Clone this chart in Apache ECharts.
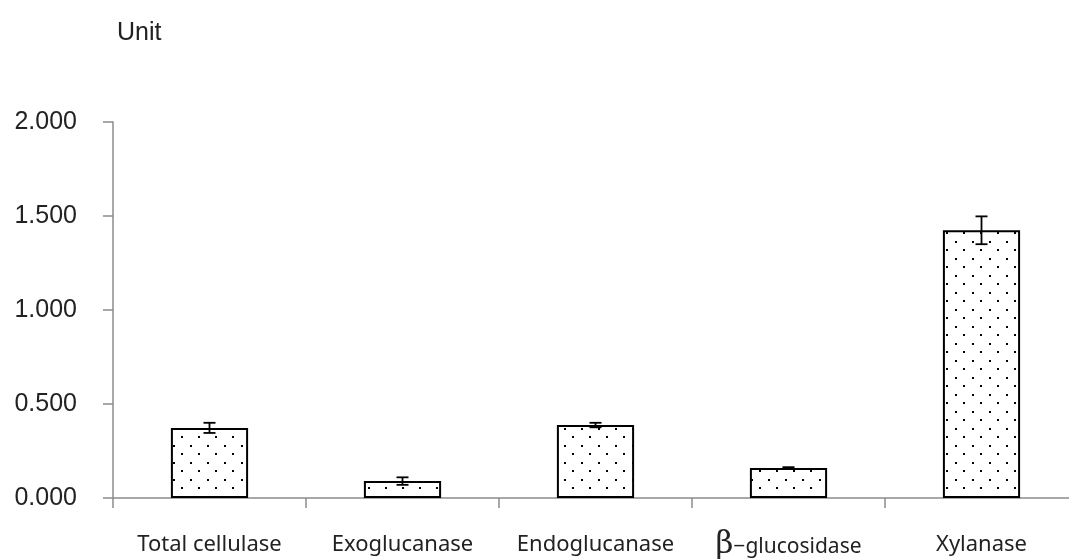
<!DOCTYPE html>
<html>
<head>
<meta charset="utf-8">
<script src="https://cdn.jsdelivr.net/npm/echarts@6/dist/echarts.min.js"></script>
<style>
  html, body { margin: 0; padding: 0; background: #fff; }
  #chart { width: 1069px; height: 559px; }
</style>
</head>
<body>
<div id="chart"></div>
<script>
// Enzyme activities with standard deviations
const categories = ['Total cellulase', 'Exoglucanase', 'Endoglucanase', 'β-glucosidase', 'Xylanase'];
const activity = [0.373, 0.090, 0.388, 0.160, 1.424];
const deviation = [0.027, 0.020, 0.012, 0.004, 0.074];
const yTicks = [0, 0.5, 1.0, 1.5, 2.0];

// Dotted fill used for the bars
function dotPattern() {
  const c = document.createElement('canvas');
  c.width = 17; c.height = 17;
  const ctx = c.getContext('2d');
  ctx.fillStyle = '#ffffff';
  ctx.fillRect(0, 0, 17, 17);
  ctx.fillStyle = '#000000';
  ctx.fillRect(3, 3, 2, 2);
  ctx.fillRect(11, 11, 2, 2);
  return c;
}

const chart = echarts.init(document.getElementById('chart'), null, { renderer: 'canvas' });

const axisGray = '#8c8c8c';

chart.setOption({
  animation: false,
  backgroundColor: '#ffffff',
  title: {
    text: 'Unit',
    left: 112,
    top: 16,
    textStyle: { fontFamily: 'Liberation Sans', fontSize: 25, fontWeight: 'normal', color: '#222' }
  },
  grid: { left: 113, right: -9, top: 122, bottom: 61, containLabel: false, outerBoundsMode: 'none' },
  xAxis: {
    type: 'category',
    data: categories,
    axisLine: { show: true, lineStyle: { color: axisGray, width: 1.5 } },
    axisTick: { show: true, interval: 0, alignWithLabel: false, length: 10, lineStyle: { color: axisGray, width: 1.5 } },
    axisLabel: {
      interval: 0,
      margin: 34,
      fontFamily: 'Noto Sans',
      fontSize: 22,
      color: '#222',
      formatter: function (v) {
        if (v.charAt(0) === 'β') return '{beta|β}{rest|−' + v.slice(2) + '}';
        return '{norm|' + v + '}';
      },
      rich: {
        norm: { fontFamily: 'Noto Sans', fontSize: 22, color: '#222', lineHeight: 26, verticalAlign: 'middle' },
        beta: { fontFamily: 'DejaVu Serif', fontSize: 31, color: '#222', lineHeight: 26, verticalAlign: 'middle' },
        rest: { fontFamily: 'Noto Sans', fontSize: 21, color: '#222', lineHeight: 26, verticalAlign: 'middle', padding: [4, 0, 0, 0] }
      }
    }
  },
  yAxis: {
    type: 'value',
    min: yTicks[0],
    max: yTicks[yTicks.length - 1],
    interval: yTicks[1] - yTicks[0],
    splitLine: { show: false },
    axisLine: { show: true, lineStyle: { color: axisGray, width: 1.5 } },
    axisTick: { show: true, length: 10, lineStyle: { color: axisGray, width: 1.5 } },
    axisLabel: {
      margin: 36,
      fontFamily: 'Liberation Sans',
      fontSize: 25,
      color: '#222',
      formatter: function (v) { return v.toFixed(3); }
    }
  },
  series: [
    {
      type: 'bar',
      data: activity,
      barWidth: '40%',
      itemStyle: {
        color: { image: dotPattern(), repeat: 'repeat' },
        borderColor: '#000',
        borderWidth: 2
      },
      z: 2
    },
    {
      type: 'custom',
      data: activity.map(function (v, i) { return [i, v - deviation[i], v + deviation[i]]; }),
      renderItem: function (params, api) {
        const lo = api.coord([api.value(0), api.value(1)]);
        const hi = api.coord([api.value(0), api.value(2)]);
        const hw = 6;
        const style = { stroke: '#000', lineWidth: 1.8 };
        return {
          type: 'group',
          children: [
            { type: 'line', shape: { x1: hi[0], y1: hi[1], x2: lo[0], y2: lo[1] }, style: style },
            { type: 'line', shape: { x1: hi[0] - hw, y1: hi[1], x2: hi[0] + hw, y2: hi[1] }, style: style },
            { type: 'line', shape: { x1: lo[0] - hw, y1: lo[1], x2: lo[0] + hw, y2: lo[1] }, style: style }
          ]
        };
      },
      z: 5
    }
  ]
});
</script>
</body>
</html>
